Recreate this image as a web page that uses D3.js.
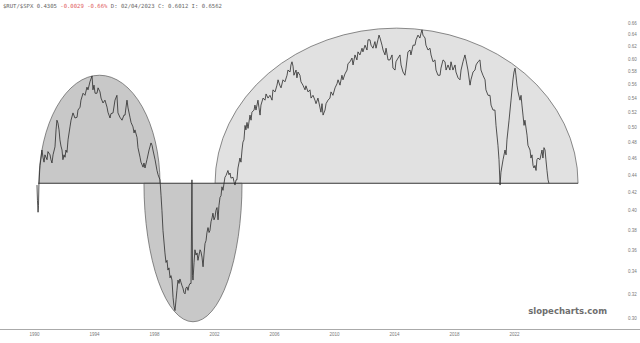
<!DOCTYPE html>
<html>
<head>
<meta charset="utf-8">
<script src="https://cdn.jsdelivr.net/npm/d3@7"></script>
<style>
  body { margin: 0; background: #fff; }
  svg { display: block; font-family: "DejaVu Sans", sans-serif; }
</style>
</head>
<body>
<script>
// ratio series (decimal years / ratio values)
const years = [
  1990.20, 1990.23, 1990.27, 1990.30, 1990.33, 1990.40, 1990.47, 1990.53, 1990.60, 1990.67,
  1990.73, 1990.87, 1990.93, 1991.07, 1991.13, 1991.20, 1991.27, 1991.40, 1991.47, 1991.53,
  1991.60, 1991.67, 1991.73, 1991.80, 1991.87, 1991.93, 1992.00, 1992.07, 1992.13, 1992.20,
  1992.27, 1992.40, 1992.47, 1992.60, 1992.73, 1992.87, 1992.93, 1993.07, 1993.13, 1993.27,
  1993.40, 1993.53, 1993.60, 1993.73, 1993.87, 1993.93, 1994.00, 1994.07, 1994.20, 1994.27,
  1994.40, 1994.47, 1994.60, 1994.73, 1994.87, 1994.93, 1995.07, 1995.13, 1995.27, 1995.40,
  1995.53, 1995.60, 1995.73, 1995.87, 1996.00, 1996.07, 1996.13, 1996.20, 1996.27, 1996.40,
  1996.47, 1996.60, 1996.67, 1996.73, 1996.87, 1996.93, 1997.07, 1997.13, 1997.27, 1997.33,
  1997.40, 1997.53, 1997.67, 1997.73, 1997.80, 1997.87, 1997.93, 1998.07, 1998.20, 1998.27,
  1998.40, 1998.47, 1998.53, 1998.60, 1998.73, 1998.80, 1998.87, 1998.93, 1999.00, 1999.07,
  1999.13, 1999.20, 1999.27, 1999.33, 1999.40, 1999.47, 1999.53, 1999.60, 1999.67, 1999.73,
  1999.80, 1999.87, 1999.93, 2000.00, 2000.07, 2000.13, 2000.20, 2000.27, 2000.33, 2000.40,
  2000.47, 2000.53, 2000.57, 2000.60, 2000.67, 2000.73, 2000.80, 2000.87, 2000.93, 2001.00,
  2001.07, 2001.13, 2001.20, 2001.27, 2001.33, 2001.40, 2001.47, 2001.53, 2001.60, 2001.67,
  2001.73, 2001.80, 2001.87, 2001.93, 2002.00, 2002.07, 2002.13, 2002.20, 2002.27, 2002.33,
  2002.40, 2002.47, 2002.53, 2002.60, 2002.67, 2002.73, 2002.80, 2002.93, 2003.00, 2003.07,
  2003.13, 2003.27, 2003.33, 2003.40, 2003.47, 2003.53, 2003.60, 2003.73, 2003.80, 2003.87,
  2003.93, 2004.00, 2004.07, 2004.13, 2004.20, 2004.27, 2004.40, 2004.47, 2004.53, 2004.67,
  2004.73, 2004.80, 2004.93, 2005.00, 2005.07, 2005.13, 2005.27, 2005.40, 2005.47, 2005.60,
  2005.73, 2005.87, 2005.93, 2006.07, 2006.20, 2006.27, 2006.40, 2006.47, 2006.60, 2006.73,
  2006.87, 2006.93, 2007.07, 2007.13, 2007.20, 2007.27, 2007.33, 2007.47, 2007.53, 2007.60,
  2007.73, 2007.80, 2007.93, 2008.07, 2008.13, 2008.27, 2008.40, 2008.47, 2008.60, 2008.73,
  2008.80, 2008.93, 2009.07, 2009.13, 2009.20, 2009.27, 2009.40, 2009.47, 2009.60, 2009.73,
  2009.80, 2009.93, 2010.07, 2010.20, 2010.27, 2010.40, 2010.53, 2010.60, 2010.73, 2010.87,
  2010.93, 2011.07, 2011.20, 2011.27, 2011.40, 2011.53, 2011.60, 2011.73, 2011.87, 2011.93,
  2012.07, 2012.20, 2012.27, 2012.40, 2012.47, 2012.60, 2012.73, 2012.80, 2012.93, 2013.00,
  2013.07, 2013.20, 2013.27, 2013.40, 2013.47, 2013.60, 2013.73, 2013.87, 2013.93, 2014.07,
  2014.13, 2014.27, 2014.40, 2014.47, 2014.60, 2014.73, 2014.80, 2014.93, 2015.07, 2015.13,
  2015.27, 2015.40, 2015.47, 2015.60, 2015.73, 2015.80, 2015.87, 2015.93, 2016.07, 2016.13,
  2016.27, 2016.40, 2016.47, 2016.60, 2016.73, 2016.80, 2016.93, 2017.07, 2017.13, 2017.27,
  2017.40, 2017.47, 2017.60, 2017.73, 2017.80, 2017.93, 2018.07, 2018.13, 2018.27, 2018.40,
  2018.47, 2018.60, 2018.73, 2018.80, 2018.93, 2019.07, 2019.13, 2019.27, 2019.40, 2019.47,
  2019.60, 2019.73, 2019.80, 2019.93, 2020.07, 2020.13, 2020.27, 2020.40, 2020.47, 2020.60,
  2020.73, 2020.80, 2020.93, 2021.00, 2021.07, 2021.13, 2021.27, 2021.40, 2021.47, 2021.53,
  2021.67, 2021.80, 2021.93, 2022.00, 2022.07, 2022.13, 2022.20, 2022.27, 2022.40, 2022.47,
  2022.53, 2022.60, 2022.67, 2022.73, 2022.87, 2022.93, 2023.07, 2023.13, 2023.20, 2023.27,
  2023.33, 2023.40, 2023.47, 2023.53, 2023.60, 2023.73, 2023.80, 2023.87, 2023.93, 2024.00,
  2024.07, 2024.13, 2024.20, 2024.27, 2024.33
];
const ratios = [
  .428, .411, .398, .405, .430, .451, .460, .470, .461, .455,
  .464, .458, .468, .464, .458, .454, .464, .474, .496, .509,
  .505, .496, .483, .475, .470, .458, .464, .461, .470, .467,
  .483, .500, .509, .519, .512, .513, .523, .527, .537, .547,
  .544, .556, .552, .564, .573, .552, .559, .547, .547, .555,
  .549, .540, .533, .537, .527, .520, .512, .518, .519, .537,
  .544, .519, .513, .509, .516, .516, .526, .537, .526, .513,
  .506, .500, .492, .496, .486, .473, .461, .455, .449, .454,
  .448, .458, .470, .474, .479, .476, .470, .458, .445, .440,
  .434, .416, .400, .379, .357, .348, .350, .341, .343, .334,
  .336, .332, .317, .310, .306, .315, .323, .332, .329, .333,
  .330, .327, .325, .321, .320, .325, .326, .323, .327, .329,
  .329, .434, .336, .332, .348, .360, .355, .357, .350, .355,
  .360, .358, .353, .344, .355, .366, .369, .377, .382, .377,
  .379, .388, .392, .397, .390, .393, .400, .403, .390, .405,
  .414, .416, .426, .422, .430, .437, .439, .445, .440, .442,
  .436, .437, .432, .428, .434, .434, .448, .460, .455, .470,
  .480, .483, .502, .496, .506, .498, .516, .509, .520, .523,
  .530, .523, .537, .526, .516, .530, .540, .537, .546, .540,
  .544, .537, .552, .549, .559, .567, .558, .555, .567, .564,
  .574, .582, .579, .590, .595, .588, .574, .582, .570, .579,
  .574, .564, .559, .552, .558, .549, .552, .540, .544, .537,
  .532, .540, .526, .520, .532, .516, .523, .532, .537, .540,
  .549, .544, .555, .561, .567, .559, .574, .567, .576, .582,
  .592, .595, .601, .590, .606, .598, .611, .606, .617, .611,
  .622, .614, .631, .631, .622, .617, .628, .617, .631, .639,
  .634, .622, .614, .606, .617, .598, .598, .606, .585, .582,
  .595, .601, .606, .590, .579, .574, .585, .611, .614, .606,
  .622, .622, .631, .639, .634, .642, .648, .639, .634, .622,
  .614, .617, .606, .595, .598, .582, .574, .574, .585, .598,
  .595, .582, .590, .582, .595, .582, .590, .579, .570, .567,
  .582, .595, .606, .598, .582, .559, .567, .579, .582, .590,
  .595, .598, .582, .574, .567, .552, .544, .544, .530, .523,
  .523, .502, .476, .458, .428, .443, .458, .470, .464, .483,
  .509, .537, .567, .579, .585, .574, .559, .549, .537, .544,
  .530, .516, .502, .509, .489, .476, .470, .460, .464, .451,
  .448, .451, .445, .458, .460, .458, .464, .470, .460, .473,
  .470, .458, .445, .434, .430
];

// rounded-top / rounded-bottom annotations drawn on the chart
const baseLevel = 0.43;
const arcStarts = [1990.33, 1997.33, 2002.07];
const arcEnds = [1998.40, 2003.87, 2026.27];
const arcPeaks = [0.574, 0.297, 0.651];
const arcFills = ['#c8c8c8', '#c8c8c8', '#e1e1e1'];
const baseStart = 1990.27;
const baseEnd = 2026.27;

const yTicks = d3.range(0.30, 0.665, 0.02);
const xTickYears = [1990, 1994, 1998, 2002, 2006, 2010, 2014, 2018, 2022];

const titleSymbol = '$RUT/$SPX 0.4305';
const titleChange = '-0.0029 -0.66%';
const titleRest = 'D: 02/04/2023 C: 0.6012 I: 0.6562';

const width = 640, height = 343;

function toDate(yr) {
    const y = Math.floor(yr);
    const start = new Date(y, 0, 1), end = new Date(y + 1, 0, 1);
    return new Date(+start + (yr - y) * (end - start));
}

const series = years.map((yr, i) => ({ date: toDate(yr), value: ratios[i] }));

const svg = d3.select('body').append('svg')
    .attr('width', width)
    .attr('height', height);

svg.append('rect').attr('width', width).attr('height', height).attr('fill', '#fff');

const x = d3.scaleTime()
    .domain([new Date(1990, 0, 1), new Date(2022, 0, 1)])
    .range([34, 514]);
const y = d3.scaleLog()
    .domain([0.30, 0.66])
    .range([318, 23]);

// annotation half-ellipses (big light one first)
const order = [2, 0, 1];
order.forEach(i => {
    const x0 = x(toDate(arcStarts[i])), x1 = x(toDate(arcEnds[i]));
    const yb = y(baseLevel), yp = y(arcPeaks[i]);
    const rx = (x1 - x0) / 2, ry = Math.abs(yb - yp);
    const sweep = yp < yb ? 1 : 0;
    svg.append('path')
        .attr('d', `M${x0},${yb} A${rx},${ry} 0 0 ${sweep} ${x1},${yb} Z`)
        .attr('fill', arcFills[i])
        .attr('stroke', '#5a5a5a')
        .attr('stroke-width', 0.7);
});

svg.append('line')
    .attr('x1', x(toDate(baseStart))).attr('x2', x(toDate(baseEnd)))
    .attr('y1', y(baseLevel)).attr('y2', y(baseLevel))
    .attr('stroke', '#444').attr('stroke-width', 0.8);

// price line
const line = d3.line()
    .x(d => x(d.date))
    .y(d => y(d.value));

svg.append('path')
    .datum(series)
    .attr('fill', 'none')
    .attr('stroke', '#2b2b2b')
    .attr('stroke-width', 0.8)
    .attr('stroke-linejoin', 'round')
    .attr('d', line);

// right axis labels
const yAxis = d3.axisRight(y)
    .tickValues(yTicks)
    .tickSize(0)
    .tickPadding(0)
    .tickFormat(d3.format('.2f'));
const gy = svg.append('g').attr('transform', 'translate(628,0)').call(yAxis);
gy.select('.domain').remove();
gy.selectAll('text').attr('font-size', 4.5).attr('fill', '#777');

// bottom axis
svg.append('line')
    .attr('x1', 0).attr('x2', width)
    .attr('y1', 329.5).attr('y2', 329.5)
    .attr('stroke', '#aaa').attr('stroke-width', 1);

const xAxis = d3.axisBottom(x)
    .tickValues(xTickYears.map(yr => new Date(yr, 0, 1)))
    .tickSize(0)
    .tickPadding(0)
    .tickFormat(d3.timeFormat('%Y'));
const gx = svg.append('g').attr('transform', 'translate(0,333)').call(xAxis);
gx.select('.domain').remove();
gx.selectAll('text').attr('font-size', 4.5).attr('fill', '#777');

// header
const title = svg.append('text')
    .attr('x', 3).attr('y', 8)
    .attr('font-family', '"DejaVu Sans Mono", monospace')
    .attr('font-size', 5.6)
    .attr('fill', '#666');
title.append('tspan').text(titleSymbol + ' ');
title.append('tspan').attr('fill', '#e05a5a').text(titleChange);
title.append('tspan').text(' ' + titleRest);

// watermark
svg.append('text')
    .attr('x', 607).attr('y', 314)
    .attr('text-anchor', 'end')
    .attr('font-size', 8.5)
    .attr('font-weight', 'bold')
    .attr('fill', '#6e6e6e')
    .text('slopecharts.com');
</script>
</body>
</html>
